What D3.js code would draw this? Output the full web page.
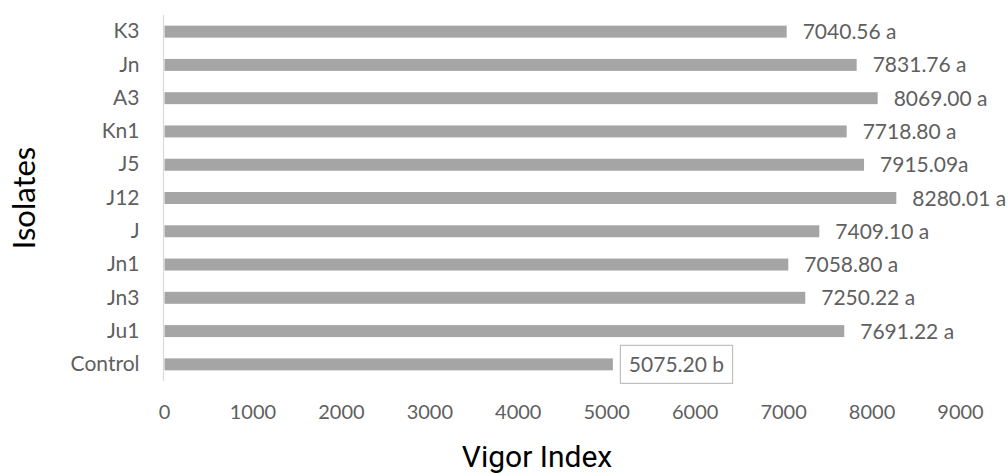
<!DOCTYPE html>
<html>
<head>
<meta charset="utf-8">
<script src="https://cdn.jsdelivr.net/npm/d3@7"></script>
<style>
  body { margin: 0; background: #fff; }
  svg { display: block; }
</style>
</head>
<body>
<div id="chart"></div>
<script>
// Isolates top to bottom, as in the picture
const isolates = ["K3", "Jn", "A3", "Kn1", "J5", "J12", "J", "Jn1", "Jn3", "Ju1", "Control"];
const vigor = [7040.56, 7831.76, 8069.0, 7718.8, 7915.09, 8280.01, 7409.1, 7058.8, 7250.22, 7691.22, 5075.2];
const letters = ["a", "a", "a", "a", "a", "a", "a", "a", "a", "a", "b"];
const xTicks = [0, 1000, 2000, 3000, 4000, 5000, 6000, 7000, 8000, 9000];

const width = 1008;
const height = 473;
const plot = { left: 164, right: 960, top: 15, bottom: 381 };

const data = isolates.map((name, i) => ({
  name,
  value: vigor[i],
  // J5 label in the source has no space before the letter
  label: vigor[i].toFixed(2) + (name === "J5" ? "" : " ") + letters[i],
}));

const svg = d3
  .select("#chart")
  .append("svg")
  .attr("width", width)
  .attr("height", height);

const xScale = d3.scaleLinear().domain([0, 9000]).range([plot.left, plot.right]);

const yScale = d3
  .scaleBand()
  .domain(isolates)
  .range([plot.top, plot.bottom])
  .paddingInner(0.64)
  .paddingOuter(0.32);

const labelFont = "Lato, 'Open Sans', sans-serif";
const labelColor = "#5f5f5f";

// x axis: labels only, no line
const xAxis = d3
  .axisBottom(xScale)
  .tickValues(xTicks)
  .tickFormat(d3.format("d"))
  .tickSize(0)
  .tickPadding(0);
const gx = svg
  .append("g")
  .attr("transform", `translate(0, 403)`)
  .call(xAxis);
gx.select(".domain").remove();
gx.selectAll("text")
  .attr("dy", null)
  .attr("y", 16)
  .style("font-family", labelFont)
  .style("font-size", "20px")
  .style("fill", labelColor);

// y axis: light vertical line + category names
const yAxis = d3.axisLeft(yScale).tickSize(0).tickPadding(24);
const gy = svg
  .append("g")
  .attr("transform", `translate(${plot.left - 0.5}, 0)`)
  .call(yAxis);
gy.select(".domain")
  .attr("d", `M0,${plot.top}V${plot.bottom}`)
  .attr("stroke", "#d9d9d9")
  .attr("stroke-width", 1.2);
gy.selectAll("text")
  .style("font-family", labelFont)
  .style("font-size", "21px")
  .style("fill", labelColor);

// bars
svg
  .selectAll("rect.bar")
  .data(data)
  .enter()
  .append("rect")
  .attr("class", "bar")
  .attr("x", xScale(0) + 0.5)
  .attr("y", (d) => yScale(d.name))
  .attr("width", (d) => xScale(d.value) - xScale(0) - 0.5)
  .attr("height", yScale.bandwidth())
  .attr("fill", "#a5a5a5");

// value labels
const labels = svg
  .selectAll("text.val")
  .data(data)
  .enter()
  .append("text")
  .attr("class", "val")
  .attr("x", (d) => xScale(d.value) + 16)
  .attr("y", (d) => yScale(d.name) + yScale.bandwidth() / 2)
  .attr("dy", "0.36em")
  .style("font-family", labelFont)
  .style("font-size", "21px")
  .style("fill", labelColor)
  .text((d) => d.label);

// boxed label for Control
labels
  .filter((d) => d.name === "Control")
  .each(function (d) {
    const bb = this.getBBox();
    svg
      .insert("rect", "text.val")
      .attr("x", bb.x - 8.5)
      .attr("y", yScale(d.name) + yScale.bandwidth() / 2 - 19)
      .attr("width", bb.width + 17)
      .attr("height", 38)
      .attr("fill", "#fff")
      .attr("stroke", "#bfbfbf")
      .attr("stroke-width", 1.2);
  });

// axis titles
svg
  .append("text")
  .attr("x", 537)
  .attr("y", 467)
  .attr("text-anchor", "middle")
  .style("font-family", "Roboto, sans-serif")
  .style("font-size", "30px")
  .style("fill", "#000")
  .text("Vigor Index");

svg
  .append("text")
  .attr("transform", "translate(35, 198) rotate(-90)")
  .attr("text-anchor", "middle")
  .style("font-family", labelFont)
  .style("font-size", "31px")
  .style("fill", "#000")
  .text("Isolates");
</script>
</body>
</html>
